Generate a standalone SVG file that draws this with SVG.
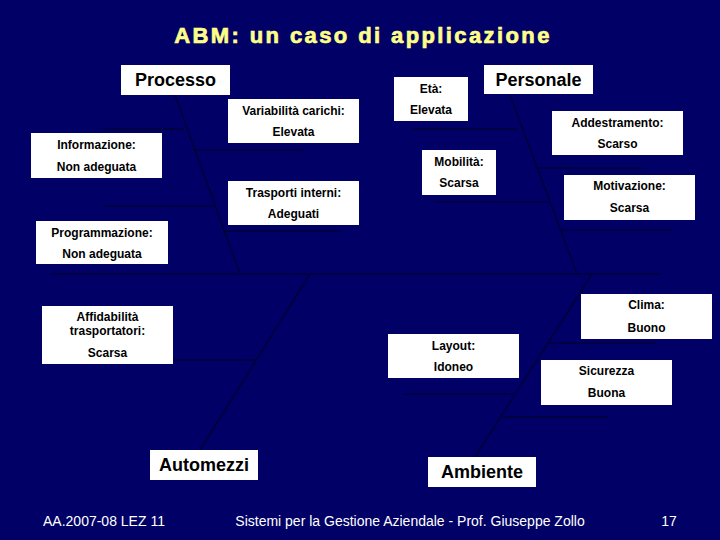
<svg xmlns="http://www.w3.org/2000/svg" width="720" height="540" viewBox="0 0 720 540">
<style>
.bg{fill:#000066}
.box{fill:#ffffff}
.ln{stroke:#00003a;stroke-width:1.6;fill:none}
.t{font-family:"Liberation Sans",Arial,sans-serif;font-weight:bold;font-size:12px;fill:#000000;text-anchor:middle}
.h{font-family:"Liberation Sans",Arial,sans-serif;font-weight:bold;font-size:18px;fill:#000000;text-anchor:middle}
.title{font-family:"Liberation Sans",Arial,sans-serif;font-weight:bold;font-size:22px;fill:#ffff88;stroke:#ffff88;stroke-width:0.7;text-anchor:middle;letter-spacing:2.4px}
.f{font-family:"Liberation Sans",Arial,sans-serif;font-size:14px;fill:#ffffff}
</style>
<rect class="bg" x="0" y="0" width="720" height="540"/>
<text class="title" x="363" y="43">ABM: un caso di applicazione</text>
<g id="connectors">
<line class="ln" x1="50" y1="274" x2="661" y2="274"/>
<line class="ln" x1="175" y1="95" x2="240" y2="274"/>
<line class="ln" x1="510" y1="95" x2="577" y2="274"/>
<line class="ln" x1="310" y1="274" x2="200" y2="450"/>
<line class="ln" x1="592" y1="274" x2="475" y2="457"/>
<line class="ln" x1="103" y1="129" x2="184" y2="129"/>
<line class="ln" x1="193" y1="150" x2="303" y2="150"/>
<line class="ln" x1="103" y1="206" x2="214" y2="206"/>
<line class="ln" x1="224" y1="231" x2="340" y2="231"/>
<line class="ln" x1="412" y1="129" x2="518" y2="129"/>
<line class="ln" x1="535" y1="168" x2="642" y2="168"/>
<line class="ln" x1="435" y1="202" x2="548" y2="202"/>
<line class="ln" x1="560" y1="230" x2="672" y2="230"/>
<line class="ln" x1="173" y1="360" x2="257" y2="360"/>
<line class="ln" x1="405" y1="394" x2="513" y2="394"/>
<line class="ln" x1="548" y1="343" x2="655" y2="343"/>
<line class="ln" x1="503" y1="417" x2="608" y2="417"/>
</g>
<g id="processo"><rect class="box" x="121" y="65" width="109" height="30"/><text class="h" x="175.5" y="86">Processo</text></g>
<g id="personale"><rect class="box" x="484" y="65" width="109" height="29"/><text class="h" x="538.5" y="86">Personale</text></g>
<g id="automezzi"><rect class="box" x="150" y="450" width="108" height="30"/><text class="h" x="204" y="471">Automezzi</text></g>
<g id="ambiente"><rect class="box" x="428" y="457" width="108" height="30"/><text class="h" x="482" y="478">Ambiente</text></g>
<g id="informazione"><rect class="box" x="31" y="133" width="131" height="45"/><text class="t" x="96.5" y="149">Informazione:</text><text class="t" x="96.5" y="171">Non adeguata</text></g>
<g id="programmazione"><rect class="box" x="36" y="221" width="132" height="43"/><text class="t" x="102" y="237">Programmazione:</text><text class="t" x="102" y="258">Non adeguata</text></g>
<g id="variabilita"><rect class="box" x="228" y="99" width="131" height="44"/><text class="t" x="293.5" y="115">Variabilità carichi:</text><text class="t" x="293.5" y="136">Elevata</text></g>
<g id="trasporti"><rect class="box" x="228" y="181" width="131" height="44"/><text class="t" x="293.5" y="197">Trasporti interni:</text><text class="t" x="293.5" y="218">Adeguati</text></g>
<g id="eta"><rect class="box" x="394" y="77" width="74" height="44"/><text class="t" x="431" y="93">Età:</text><text class="t" x="431" y="114">Elevata</text></g>
<g id="mobilita"><rect class="box" x="422" y="150" width="74" height="45"/><text class="t" x="459" y="166">Mobilità:</text><text class="t" x="459" y="187">Scarsa</text></g>
<g id="addestramento"><rect class="box" x="552" y="111" width="131" height="44"/><text class="t" x="617.5" y="127">Addestramento:</text><text class="t" x="617.5" y="148">Scarso</text></g>
<g id="motivazione"><rect class="box" x="564" y="175" width="131" height="45"/><text class="t" x="629.5" y="190">Motivazione:</text><text class="t" x="629.5" y="212">Scarsa</text></g>
<g id="affidabilita"><rect class="box" x="42" y="306" width="131" height="58"/><text class="t" x="107.5" y="321">Affidabilità</text><text class="t" x="107.5" y="335">trasportatori:</text><text class="t" x="107.5" y="357">Scarsa</text></g>
<g id="layout"><rect class="box" x="388" y="334" width="131" height="44"/><text class="t" x="453.5" y="350">Layout:</text><text class="t" x="453.5" y="371">Idoneo</text></g>
<g id="clima"><rect class="box" x="581" y="294" width="131" height="45"/><text class="t" x="646.5" y="309">Clima:</text><text class="t" x="646.5" y="332">Buono</text></g>
<g id="sicurezza"><rect class="box" x="541" y="360" width="131" height="45"/><text class="t" x="606.5" y="375">Sicurezza</text><text class="t" x="606.5" y="397">Buona</text></g>
<text class="f" x="43" y="526">AA.2007-08 LEZ 11</text>
<text class="f" x="410" y="526" text-anchor="middle">Sistemi per la Gestione Aziendale - Prof. Giuseppe Zollo</text>
<text class="f" x="669" y="526" text-anchor="middle">17</text>
</svg>
